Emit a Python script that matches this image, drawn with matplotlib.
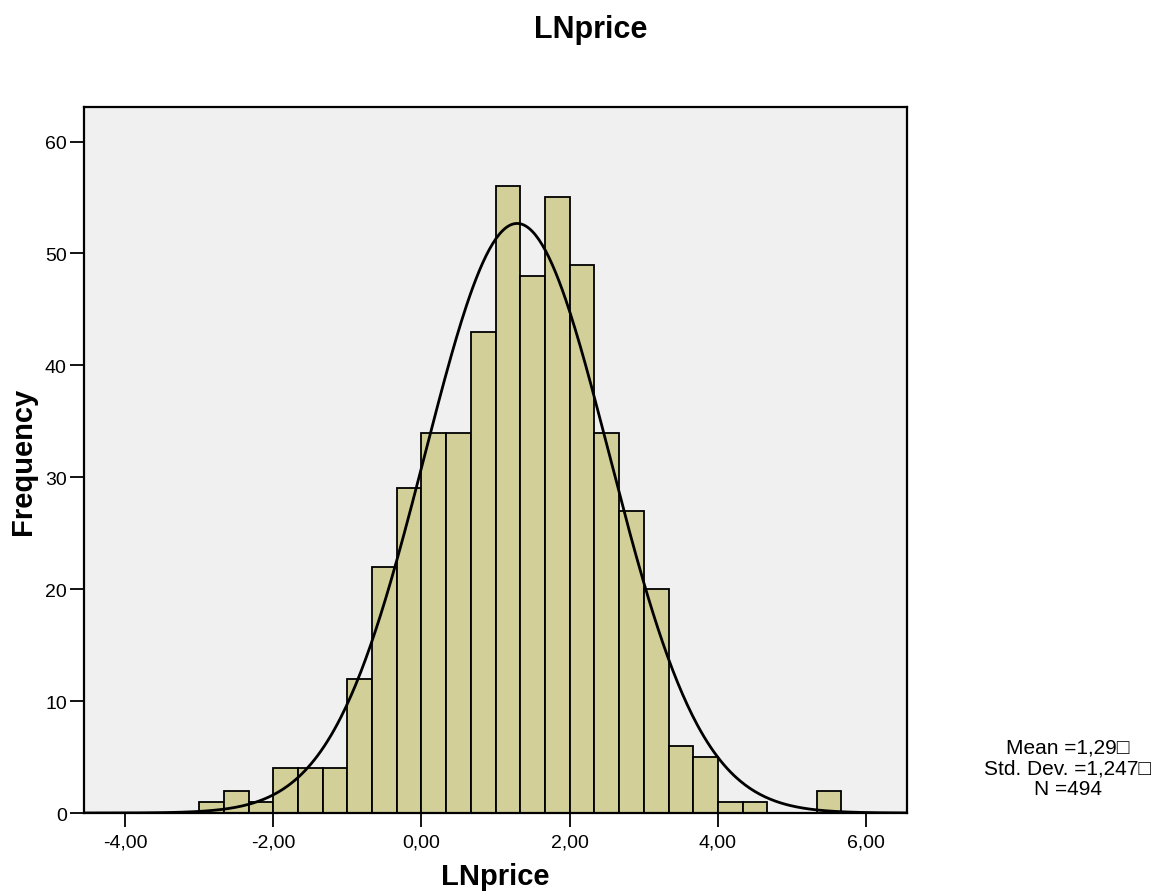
import numpy as np
import matplotlib
matplotlib.use("Agg")
from matplotlib import pyplot as plt

plt.rcParams['font.family'] = ['Liberation Sans', 'DejaVu Sans']

# histogram data (bin width 1/3, first bin starts at -3)
bin_width = 1 / 3
first_edge = -3.0
counts = [1, 2, 1, 4, 4, 4, 12, 22, 29, 34, 34, 43, 56, 48, 55, 49,
          34, 27, 20, 6, 5, 1, 1, 0, 0, 2]
mean = 1.29
std = 1.247
n_obs = 494

x_ticks = [-4, -2, 0, 2, 4, 6]
x_labels = ['-4,00', '-2,00', '0,00', '2,00', '4,00', '6,00']
y_ticks = [0, 10, 20, 30, 40, 50, 60]

fig = plt.figure(figsize=(11.68, 8.95), dpi=100)
ax = fig.add_axes([0.0715, 0.0905, 0.705, 0.789])
ax.set_facecolor('#F0F0F0')

counts = np.array(counts)
lefts = first_edge + np.arange(len(counts)) * bin_width
keep = counts > 0
ax.bar(lefts[keep], counts[keep], width=bin_width, align='edge',
       color='#D3CF98', edgecolor='black', linewidth=1.3, zorder=2)

# fitted normal curve
xs = np.linspace(-4.56, 6.55, 500)
ys = n_obs * bin_width / (std * np.sqrt(2 * np.pi)) * np.exp(-0.5 * ((xs - mean) / std) ** 2)
ax.plot(xs, ys, color='black', linewidth=2, zorder=3)

ax.set_xlim(-4.56, 6.55)
ax.set_ylim(0, 63.1)
ax.set_xticks(x_ticks)
ax.set_xticklabels(x_labels)
ax.set_yticks(y_ticks)
ax.tick_params(axis='both', direction='out', length=10, width=1.3,
               labelsize=14, color='black')
ax.tick_params(axis='x', pad=5)
ax.tick_params(axis='y', pad=2)
for sp in ax.spines.values():
    sp.set_linewidth(1.6)
    sp.set_color('black')

ax.set_xlabel('LNprice', fontsize=21, fontweight='bold', labelpad=8)
ax.set_ylabel('Frequency', fontsize=21, fontweight='bold', labelpad=6)
fig.text(0.506, 0.966, 'LNprice', fontsize=22, fontweight='bold',
         ha='center', va='center')

stats = ['Mean =1,29\u25a1', 'Std. Dev. =1,247\u25a1', 'N =494']
for i, s in enumerate(stats):
    fig.text(0.914, (895 - 748 - i * 21) / 895, s, fontsize=15,
             ha='center', va='center')

fig.savefig('out.png', dpi=100)
